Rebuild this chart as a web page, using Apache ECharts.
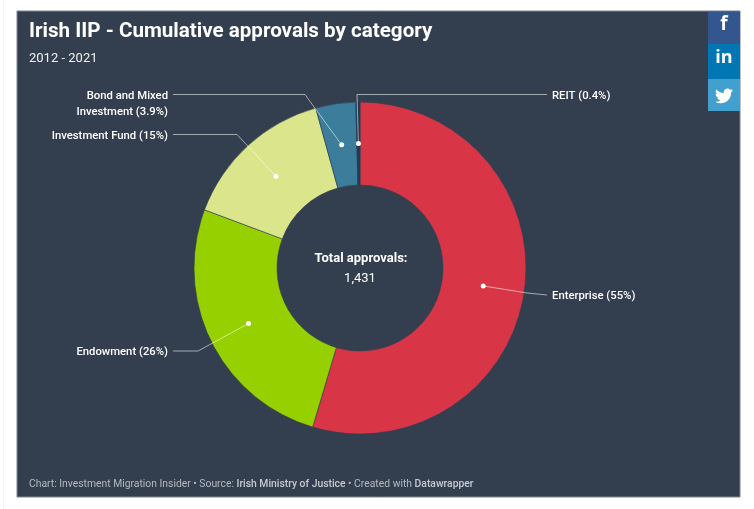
<!DOCTYPE html>
<html><head><meta charset="utf-8">
<style>html,body{margin:0;padding:0;background:#fff}#c{width:754px;height:509px}</style>
<script src="https://cdn.jsdelivr.net/npm/echarts@6/dist/echarts.min.js"></script>
</head><body><div id="c"></div>
<script>
const categories = ['Enterprise','Endowment','Investment Fund','Bond and Mixed\nInvestment','REIT'];
const shares = [54.6, 26.1, 15.0, 3.9, 0.4];
const colors = ['#d83546','#97d000','#dbe68c','#3b7d9b','#133f57'];
const totalLabel = 'Total approvals:';
const totalValue = '1,431';
const titleText = 'Irish IIP - Cumulative approvals by category';
const subtitleText = '2012 - 2021';

const BG = '#333e4f', CX = 360, CY = 268, R_OUT = 166, R_IN = 83, R_DOT = 124.5;
const BIRD = 'M23.953 4.57a10 10 0 01-2.825.775 4.958 4.958 0 002.163-2.723c-.951.555-2.005.959-3.127 1.184a4.92 4.92 0 00-8.384 4.482C7.69 8.095 4.067 6.13 1.64 3.162a4.822 4.822 0 00-.666 2.475c0 1.71.87 3.213 2.188 4.096a4.904 4.904 0 01-2.228-.616v.06a4.923 4.923 0 003.946 4.827 4.996 4.996 0 01-2.212.085 4.936 4.936 0 004.604 3.417 9.867 9.867 0 01-6.102 2.105c-.39 0-.779-.023-1.17-.067a13.995 13.995 0 007.557 2.209c9.053 0 13.998-7.496 13.998-13.985 0-.21 0-.42-.015-.63A9.935 9.935 0 0024 4.59z';
const BIRD_URI = 'data:image/svg+xml;charset=utf-8,' + encodeURIComponent('<svg xmlns="http://www.w3.org/2000/svg" width="18" height="18" viewBox="0 0 24 24"><path fill="#fff" d="'+BIRD+'"/></svg>');
// label anchor and elbow of each leader line, in pixels
const anchors = [
  {x:552,y:296,align:'left', elbow:[527,293],end:[547,295]},
  {x:168,y:352.5,align:'right',elbow:[198,351],end:[173,351]},
  {x:168,y:136,align:'right',elbow:[237,134.5],end:[173,134.5]},
  {x:168,y:104,align:'right',elbow:[305,94.5],end:[173,94.5]},
  {x:552,y:96,align:'left', elbow:[357,94.5],end:[547,94.5]}
];
const fmt = v => (v >= 10 ? Math.round(v) : v.toFixed(1)) + '%';
const labelled = categories.map((c,i)=>({value:shares[i],name:c,
  label:{formatter:c+' ('+fmt(shares[i])+')'}}));
const sum = shares.reduce((a,b)=>a+b,0);
let run = 0;
const dots = shares.map(v=>{const m=run+v/2;run+=v;return [R_DOT,m];});

const chart = echarts.init(document.getElementById('c'),null,{renderer:'canvas'});
chart.setOption({
  animation:false,
  backgroundColor:'#fff',
  polar:{center:[CX,CY],radius:R_OUT},
  radiusAxis:{min:0,max:R_OUT,show:false},
  angleAxis:{min:0,max:sum,startAngle:90,clockwise:true,show:false},
  graphic:[
    {type:'rect',z:-10,silent:true,shape:{x:3,y:0,width:1,height:509},style:{fill:'#f3f3f3'}},
    {type:'rect',z:-9,silent:true,shape:{x:17,y:11,width:723,height:486},style:{fill:BG,stroke:'#7d8490',lineWidth:1}},
    {type:'text',z:10,silent:true,x:29,y:31.5,style:{text:titleText,font:'bold 20.6px Roboto',fill:'#fff',verticalAlign:'middle'}},
    {type:'text',z:10,silent:true,x:29,y:58.5,style:{text:subtitleText,font:'13px Roboto',fill:'#f0f0f0',verticalAlign:'middle'}},
    {type:'text',z:10,silent:true,x:29,y:484,style:{
      text:'{a|Chart: Investment Migration Insider • Source: }{b|Irish Ministry of Justice}{a| • Created with }{b|Datawrapper}',
      verticalAlign:'middle',rich:{a:{font:'10.35px Roboto',fill:'#b4bac2'},b:{font:'500 10.35px Roboto',fill:'#c6cbd1'}}}},
    {type:'text',z:10,silent:true,x:CX+1,y:259,style:{text:totalLabel,font:'bold 13px Roboto',fill:'#fff',align:'center',verticalAlign:'middle'}},
    {type:'text',z:10,silent:true,x:CX,y:278.5,style:{text:totalValue,font:'13px Roboto',fill:'#fff',align:'center',verticalAlign:'middle'}},
    {type:'rect',z:-8,silent:true,shape:{x:708,y:12,width:32,height:32},style:{fill:'#34568f'}},
    {type:'rect',z:-8,silent:true,shape:{x:708,y:44,width:32,height:35},style:{fill:'#0077b3'}},
    {type:'rect',z:-8,silent:true,shape:{x:708,y:79,width:32,height:32},style:{fill:'#41a0cd'}},
    {type:'text',z:12,silent:true,x:724,y:25,style:{text:'f',font:'bold 19px "Open Sans"',fill:'#fff',align:'center',verticalAlign:'middle'}},
    {type:'text',z:12,silent:true,x:724,y:58,style:{text:'in',font:'bold 18px "Open Sans"',fill:'#fff',align:'center',verticalAlign:'middle'}},
    {type:'image',z:12,silent:true,style:{image:BIRD_URI,x:715,y:87,width:18,height:18}}
  ],
  series:[
    {type:'pie',z:2,silent:true,center:[CX,CY],radius:[R_IN,R_OUT],startAngle:90,clockwise:true,
     data:shares.map((v,i)=>({value:v,name:categories[i]})),
     color:colors,label:{show:false},labelLine:{show:false},
     itemStyle:{borderColor:BG,borderWidth:0.6}},
    {type:'pie',z:3,silent:true,center:[CX,CY],radius:[0,R_DOT],startAngle:90,clockwise:true,
     avoidLabelOverlap:false,
     data:labelled,
     itemStyle:{color:'rgba(0,0,0,0)'},
     label:{show:true,position:'outside',color:'#fff',fontFamily:'Roboto',fontWeight:500,fontSize:11.3,lineHeight:16},
     labelLine:{show:true,length:10,length2:10,smooth:false,lineStyle:{color:'rgba(255,255,255,0.55)',width:1}},
     labelLayout:function(p){
       const a = anchors[p.dataIndex];
       const start = p.labelLinePoints ? p.labelLinePoints[0] : [a.elbow[0],a.elbow[1]];
       return {x:a.x,y:a.y,align:a.align,verticalAlign:'middle',
               labelLinePoints:[start,a.elbow,a.end]};
     }},
    {type:'scatter',z:4,silent:true,coordinateSystem:'polar',data:dots,symbol:'circle',symbolSize:5,
     itemStyle:{color:'#fff',opacity:1}}
  ]
});
</script></body></html>
